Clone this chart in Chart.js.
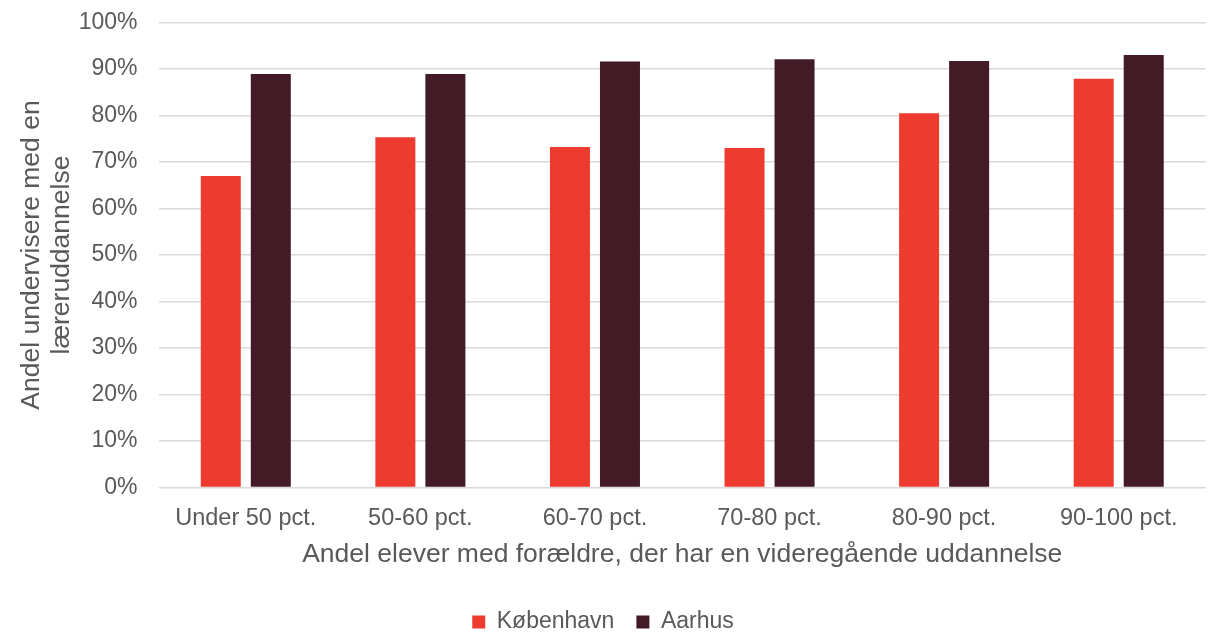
<!DOCTYPE html>
<html>
<head>
<meta charset="utf-8">
<script src="https://cdn.jsdelivr.net/npm/chart.js@4"></script>
<style>
html,body{margin:0;padding:0;background:#fff;}
#wrap{width:1208px;height:637px;}
</style>
</head>
<body>
<div id="wrap"><canvas id="c" width="1208" height="637"></canvas></div>
<script>
const categories = ["Under 50 pct.", "50-60 pct.", "60-70 pct.", "70-80 pct.", "80-90 pct.", "90-100 pct."];
const kobenhavn = [67.0, 75.3, 73.2, 73.0, 80.5, 87.9];
const aarhus = [88.9, 88.9, 91.6, 92.1, 91.7, 93.0];
const seriesNames = ["København", "Aarhus"];
const yTitle = ["Andel undervisere med en", "læreruddannelse"];
const xTitle = "Andel elever med forældre, der har en videregående uddannelse";

const FONT = "'Liberation Sans', Arial, sans-serif";
const TXT = "#595959";

new Chart(document.getElementById('c'), {
  type: 'bar',
  data: {
    labels: categories,
    datasets: [
      { label: seriesNames[0], data: kobenhavn, backgroundColor: '#EE3B2F', categoryPercentage: 0.573, barPercentage: 0.8 },
      { label: seriesNames[1], data: aarhus, backgroundColor: '#421B26', categoryPercentage: 0.573, barPercentage: 0.8 }
    ]
  },
  options: {
    responsive: false,
    animation: false,
    layout: { padding: { top: 22.5, right: 2, left: 0, bottom: -6.5 } },
    plugins: {
      tooltip: { enabled: false },
      legend: {
        position: 'bottom',
        labels: { boxWidth: 13, boxHeight: 13, padding: 22, color: TXT, font: { family: FONT, size: 23 } }
      }
    },
    scales: {
      x: {
        afterFit: s => { s.height = 101; },
        grid: { display: false, drawTicks: false },
        border: { display: false },
        ticks: { color: TXT, padding: 17, font: { family: FONT, size: 23.5 }, maxRotation: 0, autoSkip: false },
        title: { display: true, text: xTitle, color: TXT, font: { family: FONT, size: 26.5 }, padding: { top: 4, bottom: 17.6 } }
      },
      y: {
        afterFit: s => { s.width = 158.5; s.paddingTop = 0; s.paddingBottom = 0; },
        min: 0, max: 100,
        grid: { color: '#D9D9D9', lineWidth: 1.5, drawTicks: false },
        border: { display: false },
        ticks: { stepSize: 10, color: TXT, padding: 21, font: { family: FONT, size: 23 }, callback: v => v + '%' },
        title: { display: true, text: yTitle, color: TXT, font: { family: FONT, size: 26.5, lineHeight: 1.13 }, padding: { top: 17, bottom: 0 } }
      }
    }
  }
});
</script>
</body>
</html>
